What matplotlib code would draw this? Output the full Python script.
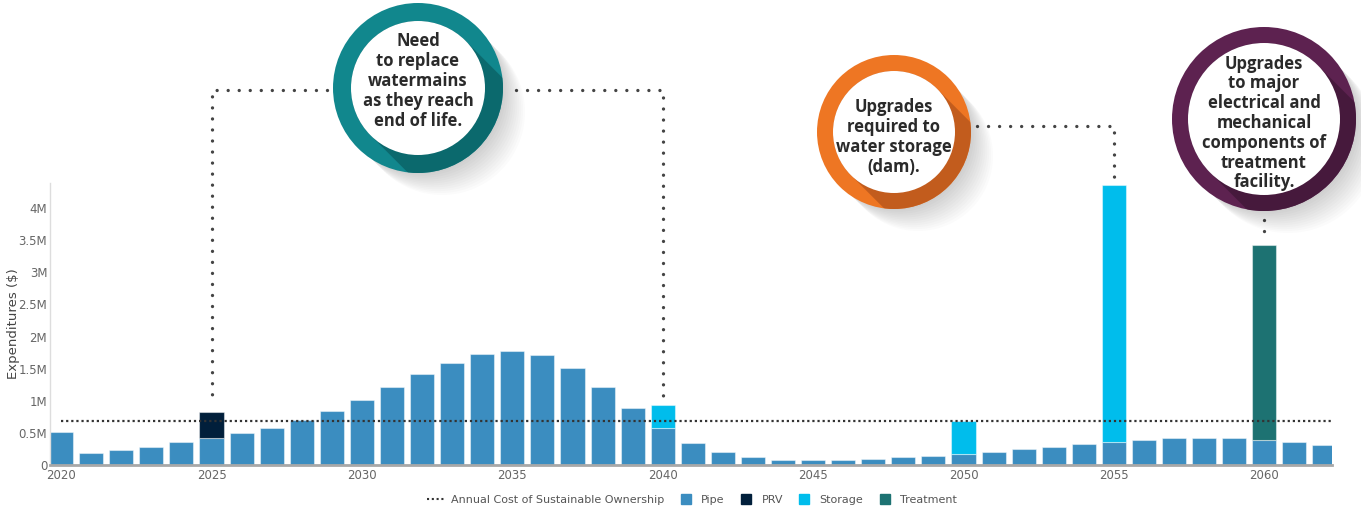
import numpy as np
import matplotlib
matplotlib.use("Agg")
import matplotlib.pyplot as plt
from matplotlib.patches import Circle, Polygon
from matplotlib.lines import Line2D

plt.rcParams["font.family"] = ["DejaVu Sans"]

# ---- data ($M) ----
years = list(range(2020, 2063))
pipe = [0.51, 0.18, 0.23, 0.28, 0.36, 0.42, 0.50, 0.58, 0.70, 0.84,
        1.01, 1.21, 1.41, 1.59, 1.73, 1.78, 1.71, 1.51, 1.22, 0.88,
        0.57, 0.35, 0.20, 0.12, 0.085, 0.075, 0.085, 0.095, 0.12, 0.14,
        0.17, 0.21, 0.25, 0.28, 0.32, 0.36, 0.39, 0.42, 0.42, 0.42,
        0.39, 0.36, 0.31]
prv_years = [2025]
prv_vals = [0.40]
storage_years = [2040, 2050, 2055]
storage_vals = [0.37, 0.52, 4.00]
treatment_years = [2060]
treatment_vals = [3.04]
sustainable_cost = 0.69

ytick_vals = [0, 0.5, 1, 1.5, 2, 2.5, 3, 3.5, 4]
ytick_labels = ["0", "0.5M", "1M", "1.5M", "2M", "2.5M", "3M", "3.5M", "4M"]
xtick_vals = [2020, 2025, 2030, 2035, 2040, 2045, 2050, 2055, 2060]

callouts = [
    ("Need\nto replace\nwatermains\nas they reach\nend of life.", "#11878D", "#0B6468"),
    ("Upgrades\nrequired to\nwater storage\n(dam).", "#EE7623", "#BB581C"),
    ("Upgrades\nto major\nelectrical and\nmechanical\ncomponents of\ntreatment\nfacility.", "#5D2250", "#421839"),
]

PIPE = "#3B8DC0"
PRV = "#011F3B"
STORAGE = "#00BDEC"
TREAT = "#1D7272"

W, H = 1361, 508
fig = plt.figure(figsize=(W / 100, H / 100), dpi=100)
ax = fig.add_axes([50 / W, (H - 465) / H, (1332 - 50) / W, (465 - 183) / H])

pipe_at = dict(zip(years, pipe))
bar_kw = dict(width=0.8, edgecolor=(1, 1, 1, 0.45), lw=0.8, zorder=2)
ax.bar(years, pipe, color=PIPE, **bar_kw)
ax.bar(prv_years, prv_vals, bottom=[pipe_at[y] for y in prv_years], color=PRV, **bar_kw)
ax.bar(storage_years, storage_vals, bottom=[pipe_at[y] for y in storage_years],
       color=STORAGE, **bar_kw)
ax.bar(treatment_years, treatment_vals, bottom=[pipe_at[y] for y in treatment_years],
       color=TREAT, **bar_kw)

ax.set_xlim(2019.63, 2062.25)
ax.set_ylim(0, 4.39)
ax.hlines(sustainable_cost, years[0], 2062.25, colors="#333333",
          linestyles=(0, (1, 1.3)), lw=1.6, zorder=3)

ax.set_yticks(ytick_vals)
ax.set_yticklabels(ytick_labels)
ax.set_xticks(xtick_vals)
ax.tick_params(length=0, labelsize=8.5, colors="#666666")
ax.tick_params(axis="x", pad=3)
ax.tick_params(axis="y", pad=2)
for s in ["top", "right"]:
    ax.spines[s].set_visible(False)
ax.spines["left"].set_color("#dddddd")
ax.spines["left"].set_linewidth(1)
ax.spines["bottom"].set_color("#a8a8a8")
ax.spines["bottom"].set_linewidth(2)
ax.spines["bottom"].set_zorder(4)
ax.set_ylabel("Expenditures ($)", fontsize=9.5, color="#444444")
ax.yaxis.set_label_coords(-0.0234, 0.5)

handles = [
    Line2D([], [], color="#333333", ls=(0, (1, 1.3)), lw=1.5),
    Line2D([], [], marker="s", ls="none", color=PIPE, markersize=7),
    Line2D([], [], marker="s", ls="none", color=PRV, markersize=7),
    Line2D([], [], marker="s", ls="none", color=STORAGE, markersize=7),
    Line2D([], [], marker="s", ls="none", color=TREAT, markersize=7),
]
labels = ["Annual Cost of Sustainable Ownership", "Pipe", "PRV", "Storage", "Treatment"]
leg = fig.legend(handles, labels, loc="center", bbox_to_anchor=(692 / W, 1 - 500 / H),
                 ncol=5, frameon=False, fontsize=8, handlelength=1.6,
                 columnspacing=1.1, handletextpad=0.6)
for t in leg.get_texts():
    t.set_color("#555555")

# ---- overlay in pixel coordinates for callouts ----
ov = fig.add_axes([0, 0, 1, 1])
ov.set_xlim(0, W)
ov.set_ylim(H, 0)
ov.axis("off")


def to_px(x, y):
    dx, dy = ax.transData.transform((x, y))
    return dx, H - dy


def capsule(cx, cy, r, d, n=80):
    th = np.pi / 4
    t1 = np.linspace(th - np.pi / 2, th + np.pi / 2, n)
    t2 = np.linspace(th + np.pi / 2, th + 3 * np.pi / 2, n)
    ox, oy = d * np.cos(th), d * np.sin(th)
    xs = np.concatenate([cx + ox + r * np.cos(t1), cx + r * np.cos(t2)])
    ys = np.concatenate([cy + oy + r * np.sin(t1), cy + r * np.sin(t2)])
    return np.column_stack([xs, ys])


dot_kw = dict(color="#444444", lw=2.4, ls=(0, (0.01, 3.3)),
              dash_capstyle="round", solid_capstyle="round", zorder=1)

x25, t25 = to_px(2025, pipe_at[2025] + prv_vals[0])
x40, t40 = to_px(2040, pipe_at[2040] + storage_vals[0])
x55, t55 = to_px(2055, pipe_at[2055] + storage_vals[2])
x60, t60 = to_px(2060, pipe_at[2060] + treatment_vals[0])

ov.plot([327, x25, x25], [90, 90, t25 - 8], **dot_kw)
ov.plot([516, x40, x40], [90, 90, t40 - 7], **dot_kw)
ov.plot([977, x55, x55], [126, 126, t55 - 7], **dot_kw)
ov.plot([x60, x60], [220, t60 - 4], **dot_kw)

geom = [((418, 88), 85, 67, 81), ((894, 132), 77, 61, 137), ((1264, 119), 92, 76, 123)]
for (text, col, dark), ((cx, cy), R, r, ty) in zip(callouts, geom):
    for L in np.linspace(4, 34, 12):
        ov.add_patch(Polygon(capsule(cx, cy, R - 2, L), closed=True, color="black",
                             alpha=0.014, lw=0, zorder=2))
    ring = Circle((cx, cy), R, color=col, lw=0, zorder=3)
    ov.add_patch(ring)
    sh = Polygon(capsule(cx, cy, r, R * 2), closed=True, color=dark, lw=0,
                 alpha=0.85, zorder=4)
    ov.add_patch(sh)
    sh.set_clip_path(ring)
    ov.add_patch(Circle((cx, cy), r, color="white", lw=0, zorder=5))
    ov.text(cx, ty, text, ha="center", va="center", fontsize=12, fontweight="bold",
            family=["Open Sans", "DejaVu Sans"], color="#2a2a2a",
            linespacing=1.13, zorder=6)

fig.savefig("out.png", dpi=100)
